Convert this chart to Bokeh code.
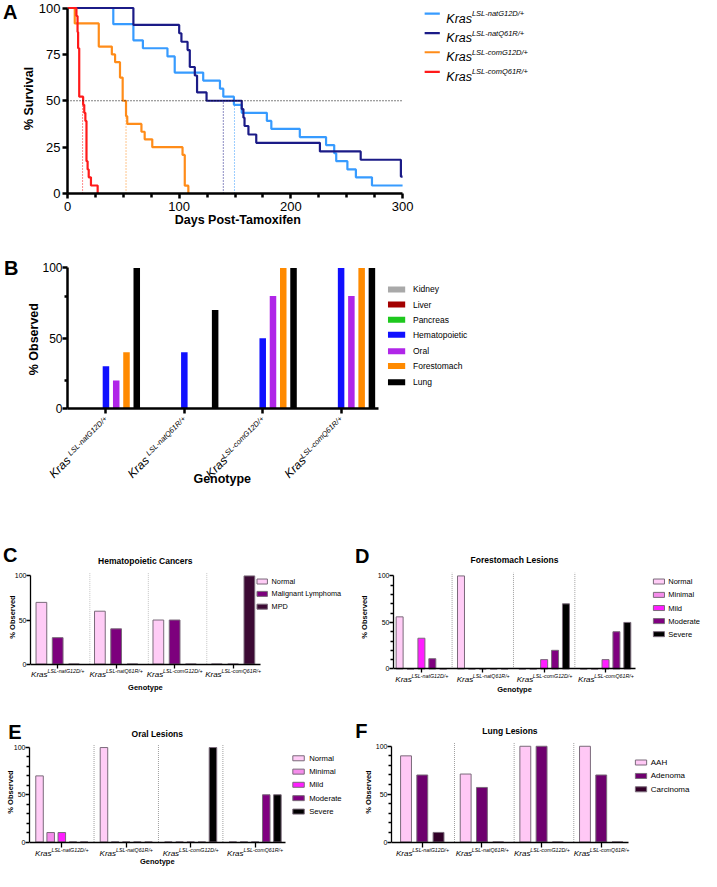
import math
from bokeh.plotting import figure
from bokeh.models import Range1d, FixedTicker, LinearAxis
from bokeh.layouts import column, row
from bokeh.embed import file_html
from bokeh.resources import INLINE
from bokeh.core.properties import value

FONT = "Liberation Sans"

# ---------------- DATA ----------------
# Panel A: Kaplan-Meier survival (% survival vs days post-tamoxifen)
natG12D_days = [0, 41, 59, 67.5, 89.5, 96, 121.5, 136.5, 139.5, 149, 156, 178.5, 182.5, 208, 231.5, 238.8, 240.6, 250.6, 258.2, 272.6, 300]
natG12D_surv = [100, 91.3, 82.6, 78.3, 73.9, 65.2, 60.9, 56.5, 52.2, 47.8, 43.5, 39.1, 34.8, 30.4, 26.1, 21.7, 17.4, 13.0, 8.7, 4.3, 4.3]
natQ61R_days = [0, 59, 100, 102, 107.5, 109.5, 114, 116, 124.5, 156, 157.5, 158.5, 162, 169, 226, 262.5, 298.5, 300]
natQ61R_surv = [100, 90.9, 86.4, 81.8, 77.3, 68.2, 63.6, 54.5, 50, 45.5, 40.9, 36.4, 31.8, 27.3, 22.7, 18.2, 9.1, 9.1]
comG12D_days = [0, 6.5, 28, 39.7, 42.6, 47, 49.4, 52.4, 53.5, 66.2, 69.1, 75.9, 103, 105, 108.2]
comG12D_surv = [100, 91.7, 79.2, 75, 70.8, 62.5, 50, 41.7, 37.5, 33.3, 29.2, 25, 20.8, 4.2, 0]
comQ61R_days = [0, 8, 9, 9.5, 10.5, 14, 15, 16, 17, 18, 19, 21, 27]
comQ61R_surv = [100, 95.7, 87, 78.3, 52.2, 47.8, 43.5, 39.1, 17.4, 13, 8.7, 4.3, 0]
median_days = [149.5, 139.5, 52.4, 13.5]
median_level = 50
survival_colors = ["#379BFF", "#1B1B87", "#FF8C19", "#FF1A1A"]
survival_x_ticks = [0, 100, 200, 300]
survival_x_minor = [25, 50, 75, 125, 150, 175, 225, 250, 275]
survival_y_ticks = [0, 25, 50, 75, 100]

genotype_sup = ["LSL-natG12D/+", "LSL-natQ61R/+", "LSL-comG12D/+", "LSL-comQ61R/+"]

# Panel B: % observed per organ
organs = ["Kidney", "Liver", "Pancreas", "Hematopoietic", "Oral", "Forestomach", "Lung"]
organ_colors = ["#A9A9A9", "#A30000", "#1EC81E", "#1010FF", "#B026E8", "#FF8A00", "#000000"]
kidney = [0, 0, 0, 0]
liver = [0, 0, 0, 0]
pancreas = [0, 0, 0, 0]
hematopoietic = [30, 40, 50, 100]
oral = [20, 0, 80, 80]
forestomach = [40, 0, 100, 100]
lung = [100, 70, 100, 100]

# Panel C: Hematopoietic cancers
hema_labels = ["Normal", "Malignant Lymphoma", "MPD"]
hema_colors = ["#FFCCF6", "#7D007D", "#3C0A34"]
hema_normal = [70, 60, 50, 0]
hema_lymphoma = [30, 40, 50, 0]
hema_mpd = [0, 0, 0, 100]

# Panel D: Forestomach lesions
grade_labels = ["Normal", "Minimal", "Mild", "Moderate", "Severe"]
grade_colors = ["#FFCCF6", "#F58CEB", "#FF1EFF", "#800080", "#000000"]
fs_normal = [56, 100, 0, 0]
fs_minimal = [0, 0, 0, 0]
fs_mild = [33, 0, 10, 10]
fs_moderate = [11, 0, 20, 40]
fs_severe = [0, 0, 70, 50]

# Panel E: Oral lesions
or_normal = [70, 100, 0, 0]
or_minimal = [10, 0, 0, 0]
or_mild = [10, 0, 0, 0]
or_moderate = [0, 0, 0, 50]
or_severe = [0, 0, 100, 50]

# Panel F: Lung lesions
lung_labels = ["AAH", "Adenoma", "Carcinoma"]
lung_colors = ["#FFC8F5", "#6E006E", "#320028"]
lung_aah = [90, 71, 100, 100]
lung_adenoma = [70, 57, 100, 70]
lung_carcinoma = [10, 0, 0, 0]

pct_ticks = [0, 50, 100]
pct_minor10 = [10, 20, 30, 40, 60, 70, 80, 90]

# ---------------- helpers ----------------
SX, SY = 701.0 / 717.0, 871.0 / 887.0   # reference-pixel -> canvas-pixel
NBSP = "\u00a0"


def R(rx):
    return rx * SX


def RY(ry):
    return ry * SY


CW = {'K': 667, 'r': 333, 'a': 556, 's': 500, 'L': 556, 'S': 667, '-': 333, 'n': 556, 't': 278,
      'G': 778, '1': 556, '2': 556, 'D': 722, '/': 278, '+': 584, 'Q': 778, '6': 556, 'R': 722,
      'c': 500, 'o': 556, 'm': 833, NBSP: 278}


def tw(s, size):
    return sum(CW.get(ch, 556) for ch in s) / 1000.0 * size


def pad_center(text, size, shift_px):
    # trailing no-break spaces move the visible part of a centred label by shift_px
    return text + NBSP * int(round(2.0 * shift_px / tw(NBSP, size)))


class Geo:
    def __init__(self, ox, oy, w, h, left, right, top, bottom, g0x, gsx, y0, y100):
        self.w, self.h = w, h
        self.left, self.right, self.top, self.bottom = left, right, top, bottom
        self.g0x, self.gsx, self.y0 = g0x, gsx, y0
        self.pyu = (y0 - y100) / 100.0
        self.fl, self.fr = ox + left, ox + w - right
        self.ft, self.fb = oy + top, oy + h - bottom
        self.xr = ((self.fl - g0x) / gsx, (self.fr - g0x) / gsx)
        self.yr = (-(self.fb - y0) / self.pyu, (y0 - self.ft) / self.pyu)

    def dx(self, cx):
        return (cx - self.g0x) / self.gsx

    def dy(self, cy):
        return (self.y0 - cy) / self.pyu


def base_fig(geo):
    p = figure(width=geo.w, height=geo.h,
               x_range=Range1d(geo.xr[0], geo.xr[1]), y_range=Range1d(geo.yr[0], geo.yr[1]),
               min_border_left=geo.left, min_border_right=geo.right,
               min_border_top=geo.top, min_border_bottom=geo.bottom,
               output_backend="svg", toolbar_location=None, title=None)
    p.outline_line_color = None
    p.xgrid.grid_line_color = None
    p.ygrid.grid_line_color = None
    p.background_fill_color = "white"
    p.border_fill_color = "white"
    return p


def style_axis(ax, lw, tick_out, minor_out, tick_font, label_font, tick_standoff, label_standoff):
    ax.axis_line_width = lw
    ax.axis_line_color = "black"
    ax.major_tick_line_width = lw
    ax.major_tick_line_color = "black"
    ax.minor_tick_line_width = lw
    ax.minor_tick_line_color = "black"
    ax.major_tick_in = 0
    ax.major_tick_out = tick_out
    ax.minor_tick_in = 0
    ax.minor_tick_out = minor_out
    ax.major_label_text_font = FONT
    ax.major_label_text_font_size = f"{tick_font}px"
    ax.major_label_text_color = "black"
    ax.major_label_standoff = int(round(tick_standoff))
    ax.axis_label_text_font = FONT
    ax.axis_label_text_font_size = f"{label_font}px"
    ax.axis_label_text_font_style = "bold"
    ax.axis_label_text_color = "black"
    ax.axis_label_standoff = int(round(label_standoff))


def hide_line(ax):
    ax.axis_line_color = None
    ax.major_tick_line_color = None
    ax.minor_tick_line_color = None
    ax.major_tick_out = 0
    ax.major_tick_in = 0
    ax.minor_tick_out = 0
    ax.minor_tick_in = 0


def letter_axis(p, geo, cy, letter, standoff):
    yl = int(round(geo.dy(cy)))
    ax = LinearAxis(ticker=FixedTicker(ticks=[yl], minor_ticks=[]),
                    major_label_overrides={yl: letter})
    hide_line(ax)
    ax.major_label_standoff = standoff
    ax.major_label_text_font = FONT
    ax.major_label_text_font_size = "20px"
    ax.major_label_text_font_style = "bold"
    ax.major_label_text_color = "black"
    p.add_layout(ax, "left")


def gtext(p, xs, ys, texts, size, style="normal", align="left", baseline="alphabetic", angle=0.0):
    p.text(x=xs, y=ys, text=texts, angle=angle, text_font=value(FONT),
           text_font_size=value(f"{size}px"), text_font_style=style,
           text_align=align, text_baseline=baseline, text_color="black")


def kras_h(p, geo, below_px, ks, ss, raise_px):
    kw = tw("Kras", ks)
    kx, sxs = [], []
    for g, sup in enumerate(genotype_sup):
        sw = tw(sup, ss)
        x0 = g - (kw + sw) / 2.0 / geo.gsx
        kx.append(x0)
        sxs.append(x0 + kw / geo.gsx)
    yb = -below_px / geo.pyu
    gtext(p, kx, [yb] * 4, ["Kras"] * 4, ks, "italic")
    gtext(p, sxs, [yb + raise_px / geo.pyu] * 4, genotype_sup, ss, "italic")


def box_legend(p, geo, cx0, cx1, cys, h_px, colors, labels, ctx, font_px, edge):
    hh = h_px / geo.pyu / 2.0
    ys = [geo.dy(cy) for cy in cys]
    n = len(ys)
    p.quad(left=[geo.dx(cx0)] * n, right=[geo.dx(cx1)] * n,
           bottom=[y - hh for y in ys], top=[y + hh for y in ys],
           fill_color=colors, line_color=edge, line_width=1)
    gtext(p, [geo.dx(ctx)] * n, ys, labels, font_px, baseline="middle")


def grouped_bars(p, series, colors, spacing, width, edge, edge_w):
    n = len(series)
    for k, (vals, col) in enumerate(zip(series, colors)):
        xs = [g + (k - (n - 1) / 2.0) * spacing for g in range(len(vals))]
        p.vbar(x=xs, top=vals, width=width, bottom=0, fill_color=col,
               line_color=edge, line_width=edge_w)


def separators(p, offset, top, color):
    xs = [g + offset for g in range(3)]
    p.segment(x0=xs, y0=[0] * 3, x1=xs, y1=[top] * 3, line_color=color,
              line_width=1, line_dash="1 1")


# ---------------- Panel A ----------------
AB_LEFT = 64
gA = Geo(0, 0, 701, 236, AB_LEFT, 71, 3, 43, AB_LEFT, (R(410) - AB_LEFT) / 300.0, 193, 7.5)
pA = base_fig(gA)
series_A = [(natG12D_days, natG12D_surv), (natQ61R_days, natQ61R_surv),
            (comG12D_days, comG12D_surv), (comQ61R_days, comQ61R_surv)]
for (d, s_), col in zip(series_A, survival_colors):
    pA.step(x=d, y=s_, mode="after", line_color=col, line_width=2.2)
pA.segment(x0=median_days, y0=[0] * 4, x1=median_days, y1=[median_level] * 4,
           line_color=survival_colors, line_width=1, line_dash="1 2")
pA.segment(x0=[0], y0=[median_level], x1=[survival_x_ticks[-1]], y1=[median_level],
           line_color="black", line_width=1, line_dash="1 2")
style_axis(pA.xaxis[0], 2.5, 5, 4, 13, 12.5, 3, -1)
style_axis(pA.yaxis[0], 2.5, 5, 4, 13, 12.5, 2, 0)
pA.xaxis[0].ticker = FixedTicker(ticks=survival_x_ticks, minor_ticks=survival_x_minor)
pA.yaxis[0].ticker = FixedTicker(ticks=survival_y_ticks, minor_ticks=[])
pA.xaxis[0].bounds = (0, 300)
pA.yaxis[0].bounds = (0, 100)
pA.xaxis[0].axis_label = pad_center("Days Post-Tamoxifen", 12.5,
                                    (gA.fl + gA.fr) / 2.0 - R(240.8))
pA.yaxis[0].axis_label = "% Survival"
rowsA = [RY(v) for v in [13.3, 33.3, 52.7, 72.7]]
pA.segment(x0=[gA.dx(R(432.7))] * 4, y0=[gA.dy(v) for v in rowsA],
           x1=[gA.dx(R(448.3))] * 4, y1=[gA.dy(v) for v in rowsA],
           line_color=survival_colors, line_width=2.2)
txA = gA.dx(R(455))
gtext(pA, [txA] * 4, [gA.dy(v + 5.0) for v in rowsA], ["Kras"] * 4, 12.5, "italic")
gtext(pA, [txA + tw("Kras", 12.5) / gA.gsx] * 4, [gA.dy(v) for v in rowsA], genotype_sup, 7.5, "italic")
letter_axis(pA, gA, RY(12.2), "A", 1)

# ---------------- Panel B ----------------
gB = Geo(0, 236, 701, 260, AB_LEFT, 71, 16, 88, R(105), 80.6 * SX, 408, RY(272.3))
pB = base_fig(gB)
grouped_bars(pB, [kidney, liver, pancreas, hematopoietic, oral, forestomach, lung],
             organ_colors, 10.56 / 80.6, 6.7 / 80.6, None, 0)
b_axis_end = gB.dx(R(385))
B_KRAS, B_SUP, B_ANG = 12, 7.5, math.pi / 4
C45 = math.cos(B_ANG)
H_EXTRA = 3.5
SUP_STANDOFF = 4
# main x axis: ticks at the genotypes, superscript part of the rotated labels
xB = pB.xaxis[0]
style_axis(xB, 2.5, 5, 3, B_SUP, 12.5, SUP_STANDOFF, 0)
xB.ticker = FixedTicker(ticks=[0, 1, 2, 3], minor_ticks=[])
xB.major_label_overrides = {g: s for g, s in enumerate(genotype_sup)}
xB.major_label_text_font_style = "italic"
xB.major_label_orientation = B_ANG
xB.bounds = (gB.xr[0], b_axis_end)
yB = pB.yaxis[0]
style_axis(yB, 2.5, 5, 3, 12, 12.5, 0, -2)
yB.ticker = FixedTicker(ticks=pct_ticks, minor_ticks=[20, 80])
yB.bounds = (0, 100)
yB.axis_label = pad_center("% Observed", 12.5, RY((272.3 + 415.7) / 2 + 1) - (gB.ft + gB.fb) / 2.0)
e_main = 5 + SUP_STANDOFF + C45 * (max(tw(s, B_SUP) for s in genotype_sup) + 1.15 * B_SUP) + H_EXTRA
# companion axis: "Kras" part, ending where the superscript starts
kras_dx = -37.45 / gB.gsx
kras_ticks = [round(g + kras_dx, 4) for g in range(4)]
kras_standoff = int(round(50.1 - e_main))
ext_kras = kras_standoff + C45 * (tw("Kras", B_KRAS) + 1.15 * B_KRAS) + H_EXTRA
kras_ax = LinearAxis(ticker=FixedTicker(ticks=kras_ticks, minor_ticks=[]),
                     major_label_overrides={t: "Kras" for t in kras_ticks})
style_axis(kras_ax, 0, 0, 0, B_KRAS, 12.5, kras_standoff, 63.75 - (e_main + ext_kras))
hide_line(kras_ax)
kras_ax.major_label_text_font_style = "italic"
kras_ax.major_label_orientation = B_ANG
kras_ax.axis_label = pad_center("Genotype", 12.5, (gB.fl + gB.fr) / 2.0 - R(226))
kras_ax.bounds = (gB.xr[0], b_axis_end)
pB.add_layout(kras_ax, "below")
box_legend(pB, gB, R(395), R(412.7), [RY(v) for v in [294.3, 309.7, 325, 340.3, 357.3, 372.3, 388.7]],
           6, organ_colors, organs, R(420.7), 8.5, None)
letter_axis(pB, gB, RY(272.5), "B", 6)


# ---------------- small panels ----------------
def small_panel(geo, axis_end_cx, minor, title, title_cy, letter, letter_cy, letter_standoff,
                label_standoff, xtick_out=4):
    p = base_fig(geo)
    xa, ya = p.xaxis[0], p.yaxis[0]
    style_axis(xa, 1.3, xtick_out, 3, 0, 7.5, 0, 0)
    style_axis(ya, 1.3, 4, 3, 7, 7.5, 0, label_standoff)
    xa.fixed_location = 0
    xa.ticker = FixedTicker(ticks=[0, 1, 2, 3], minor_ticks=[])
    xa.major_label_overrides = {0: "", 1: "", 2: "", 3: ""}
    ya.ticker = FixedTicker(ticks=pct_ticks, minor_ticks=minor)
    x_end = geo.dx(axis_end_cx)
    xa.bounds = (geo.xr[0], x_end)
    ya.bounds = (0, 100)
    ya.axis_label = "% Observed"
    mid = (geo.xr[0] + x_end) / 2.0
    gtext(p, [mid], [geo.dy(title_cy)], [title], 8.5, "bold", align="center", baseline="middle")
    letter_axis(p, geo, letter_cy, letter, letter_standoff)
    return p, mid


# Panel C
gC = Geo(0, 496, 352, 203, 29, 4, 44, 6, R(55.5) + 2, 60 * SX, RY(675.8), RY(586))
pC, midC = small_panel(gC, R(263.3) + 2, [], "Hematopoietic Cancers", RY(571), "C", RY(564.5), -13, -5)
grouped_bars(pC, [hema_normal, hema_lymphoma, hema_mpd], hema_colors, 16.7 / 60, 11 / 60.0,
             "#7A6A7A", 1)
separators(pC, 0.55, 103.5, "#C4C4C4")
kras_h(pC, gC, 10.3, 8, 5.3, 3.3)
box_legend(pC, gC, R(260) + 2, R(270.7) + 2, [RY(v) for v in [591.7, 604.3, 617.3]], 5,
           hema_colors, hema_labels, R(275) + 2, 7.3, "#7A6A7A")
gtext(pC, [midC], [gC.dy(RY(699.3))], ["Genotype"], 7.5, "bold", align="center", baseline="middle")

# Panel D
gD = Geo(352, 496, 349, 203, 34, 1, 44, 6, R(423) + 1, 64.2 * SX, RY(680.7), RY(586))
pD, midD = small_panel(gD, R(647) + 1, pct_minor10, "Forestomach Lesions", RY(570), "D", RY(566.5),
                       -13, 6)
grouped_bars(pD, [fs_normal, fs_minimal, fs_mild, fs_moderate, fs_severe], grade_colors,
             11.4 / 64.2, 7.3 / 64.2, "#7A6A7A", 1)
separators(pD, 0.5, 103.5, "#A0A0A0")
kras_h(pD, gD, 10.3, 8, 5.3, 3.3)
box_legend(pD, gD, R(666.7), R(678.3), [RY(v) for v in [591.7, 605.3, 618.7, 632, 645.3]], 5,
           grade_colors, grade_labels, R(683.3) - 1, 7.5, "#7A6A7A")
gtext(pD, [midD], [gD.dy(688.5)], ["Genotype"], 7.5, "bold", align="center", baseline="middle")

# Panel E
E_Y0 = RY(859) - 2
gE = Geo(0, 699, 352, 172, 29, 4, 18, 5, R(61.7) + 1, 65.9 * SX, E_Y0, RY(762.3) - 1.5)
pE, midE = small_panel(gE, R(290) + 1, pct_minor10, "Oral Lesions", RY(746.7), "E", RY(745.3),
                       -19, -4, xtick_out=5)
grouped_bars(pE, [or_normal, or_minimal, or_mild, or_moderate, or_severe], grade_colors,
             11.4 / 65.9, 7.7 / 65.9, "#7A6A7A", 1)
separators(pE, 0.5, 103.5, "#A0A0A0")
kras_h(pE, gE, 11.5, 8, 5.3, 3.3)
box_legend(pE, gE, R(299), R(310.7), [RY(v) for v in [771.7, 785.3, 798.7, 812.3, 826]], 5,
           grade_colors, grade_labels, R(315.7), 7.7, "#7A6A7A")
gtext(pE, [midE], [gE.dy(E_Y0 + 19.5)], ["Genotype"], 7.5, "bold", align="center", baseline="middle")

# Panel F
gF = Geo(352, 699, 349, 172, 34, 1, 18, 5, R(426.8), 62 * SX, E_Y0, RY(761) - 1.5)
pF, midF = small_panel(gF, R(641), pct_minor10, "Lung Lesions", RY(744), "F", RY(744), -7, 0,
                       xtick_out=5)
grouped_bars(pF, [lung_aah, lung_adenoma, lung_carcinoma], lung_colors,
             16.9 / 62, 11.3 / 62, "#7A6A7A", 1)
separators(pF, 0.54, 103.5, "#A0A0A0")
kras_h(pF, gF, 11.5, 8, 5.3, 3.3)
box_legend(pF, gF, R(648.3), R(660), [RY(v) for v in [776, 789.7, 803.3]], 5,
           lung_colors, lung_labels, R(664.3), 8, "#7A6A7A")

layout = column(pA, pB, row(pC, pD), row(pE, pF))
open("out.html", "w").write(file_html(layout, INLINE))
